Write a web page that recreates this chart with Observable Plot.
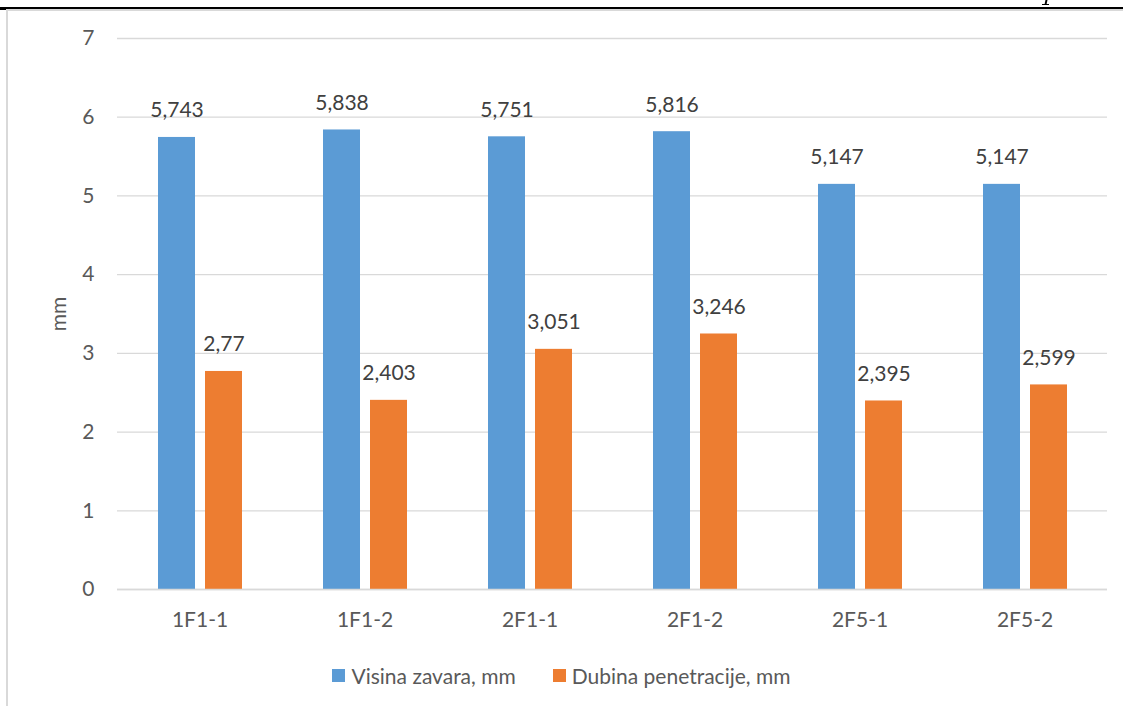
<!DOCTYPE html>
<html>
<head>
<meta charset="utf-8">
<script src="https://cdn.jsdelivr.net/npm/d3@7"></script>
<script src="https://cdn.jsdelivr.net/npm/@observablehq/plot@0.6"></script>
<style>
  html, body { margin: 0; padding: 0; background: #fff; }
  #page { position: relative; width: 1123px; height: 706px; overflow: hidden; background: #fff; font-family: Lato, "Open Sans", sans-serif; }
  #topline { position: absolute; left: 0; top: 6.5px; width: 1123px; height: 2px; background: #000; }
  #notch { position: absolute; left: 0; top: 8px; width: 6px; height: 1.5px; background: #000; }
  #frame { position: absolute; left: 6px; top: 8.5px; width: 1200px; height: 800px; border-top: 2px solid #d9d9d9; border-left: 2px solid #d9d9d9; }
  #pstem { position: absolute; left: 1045px; top: 0px; width: 1.6px; height: 4.5px; background: #000; transform: skewX(-12deg); }
  #pfoot { position: absolute; left: 1042px; top: 4px; width: 7px; height: 1.2px; background: #000; }
  #chart { position: absolute; left: 0; top: 0; }
  #legend { position: absolute; left: 0; top: 662px; width: 1123px; height: 26px; display: flex; justify-content: center; align-items: center; font-family: Lato, sans-serif; font-size: 21px; color: #595959; }
  .item { display: flex; align-items: center; }
  .item + .item { margin-left: 37px; }
  .sw { width: 13px; height: 13px; margin-right: 6px; }
</style>
</head>
<body>
<div id="page">
  <div id="frame"></div>
  <div id="topline"></div>
  <div id="notch"></div>
  <div id="pstem"></div>
  <div id="pfoot"></div>
  <div id="chart"></div>
  <div id="legend"></div>
</div>
<script>
const categories = ["1F1-1", "1F1-2", "2F1-1", "2F1-2", "2F5-1", "2F5-2"];
const series = ["Visina zavara, mm", "Dubina penetracije, mm"];
const visina = [5.743, 5.838, 5.751, 5.816, 5.147, 5.147];
const dubina = [2.77, 2.403, 3.051, 3.246, 2.395, 2.599];
const colors = ["#5B9BD5", "#ED7D31"];
const yTicks = [0, 1, 2, 3, 4, 5, 6, 7];

const data = categories.flatMap((c, i) => [
  {cat: c, series: series[0], value: visina[i]},
  {cat: c, series: series[1], value: dubina[i]}
]);
const fmt = v => String(v).replace(".", ",");

const chart = Plot.plot({
  width: 1123,
  height: 650,
  marginLeft: 116,
  marginRight: 16,
  marginTop: 38,
  marginBottom: 61,
  style: {fontFamily: "Lato, sans-serif", fontSize: "21px", color: "#595959", background: "transparent", overflow: "visible"},
  fx: {domain: categories, padding: 0, label: null, tickSize: 0, tickPadding: 23, axis: "bottom"},
  x: {domain: series, axis: null, paddingInner: 10 / 47, paddingOuter: 0.8617},
  y: {domain: [0, 7], ticks: yTicks, tickFormat: d => String(d), tickSize: 0, tickPadding: 23, label: "mm", labelAnchor: "center", labelArrow: "none", labelOffset: 66},
  color: {domain: series, range: colors},
  marks: [
    Plot.gridY(yTicks, {stroke: "#d9d9d9", strokeOpacity: 1, strokeWidth: 1.3}),
    Plot.barY(data, {fx: "cat", x: "series", y: "value", fill: "series"}),
    Plot.ruleY([0], {stroke: "#d9d9d9", strokeWidth: 1.5}),
    Plot.text(data, {fx: "cat", x: "series", y: "value", text: d => fmt(d.value), lineAnchor: "bottom", dy: -20, fill: "#404040", fontSize: 21})
  ]
});
document.getElementById("chart").appendChild(chart);

const legend = document.getElementById("legend");
series.forEach((s, i) => {
  const item = document.createElement("div");
  item.className = "item";
  const sw = document.createElement("div");
  sw.className = "sw";
  sw.style.background = colors[i];
  const t = document.createElement("span");
  t.textContent = s;
  item.appendChild(sw);
  item.appendChild(t);
  legend.appendChild(item);
});
</script>
</body>
</html>
